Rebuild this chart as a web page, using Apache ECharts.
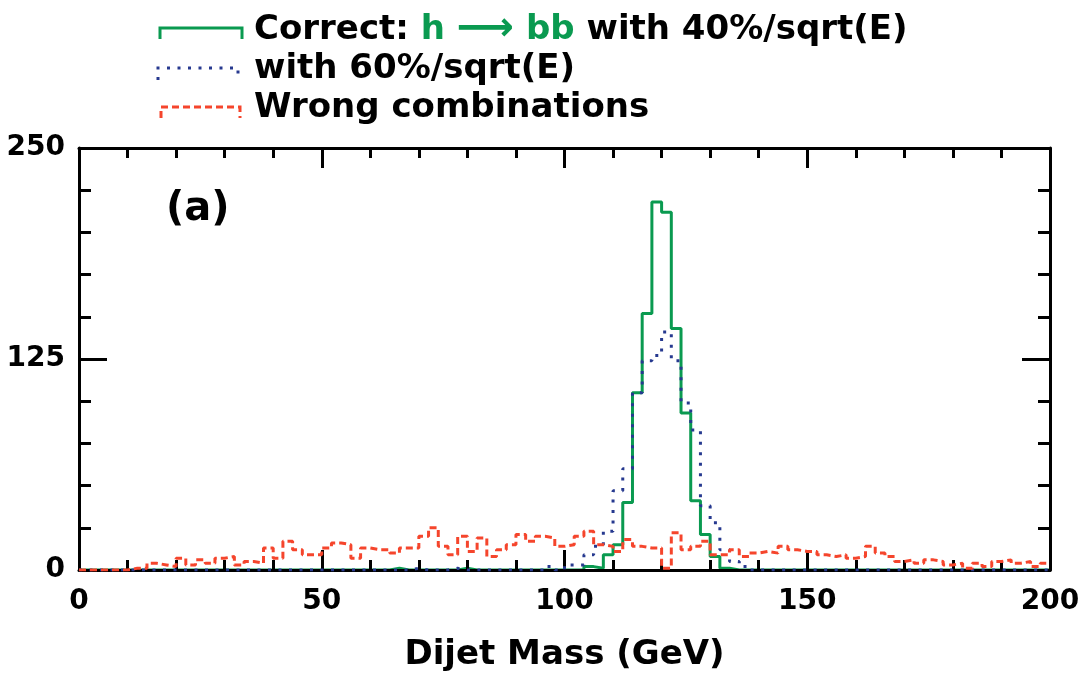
<!DOCTYPE html>
<html lang="en">
<head>
    <meta charset="utf-8">
    <title>Dijet Mass</title>
    <script src="https://cdn.jsdelivr.net/npm/echarts@6.0.0/dist/echarts.min.js"></script>
    <style>
        html, body { margin: 0; padding: 0; background: #fff; }
        #main { width: 1087px; height: 675px; }
    </style>
</head>
<body>
    <div id="main"></div>
<script>
    // 2 GeV bins from 0 to 200 GeV
    var binWidth = 2;
    var xTicks = [0, 50, 100, 150, 200];
    var yTicks = [0, 125, 250];

    // Correct h -> bb, 40%/sqrt(E)  (non-zero bins, by bin index)
    var correct40 = {
        32: 1, 39: 1,
        52: 2, 53: 1, 54: 9, 55: 15, 56: 40, 57: 105, 58: 152, 59: 218,
        60: 212, 61: 143, 62: 93, 63: 41, 64: 21, 65: 8, 66: 1
    };

    // with 60%/sqrt(E)
    var correct60 = {
        34: 1, 38: 1, 48: 2,
        50: 3, 51: 3, 52: 9, 53: 14, 54: 23, 55: 47, 56: 60, 57: 105, 58: 124, 59: 127,
        60: 141, 61: 124, 62: 99, 63: 83, 64: 38, 65: 28, 66: 12, 67: 5, 68: 2
    };

    // Wrong combinations, all 100 bins
    var wrong = [
        0, 0, 0, 0, 0, 1, 1, 4, 3, 2,
        7, 3, 6, 4, 7, 8, 3, 5, 4, 13,
        7, 17, 12, 9, 9, 13, 16, 15, 7, 13,
        12, 12, 10, 13, 13, 20, 25, 14, 9, 20,
        11, 19, 8, 12, 15, 21, 17, 20, 19, 14,
        15, 20, 23, 15, 14, 11, 18, 14, 13, 13,
        1, 22, 12, 14, 17, 9, 9, 12, 8, 10,
        11, 10, 14, 12, 11, 11, 9, 8, 9, 7,
        8, 14, 10, 8, 5, 6, 4, 6, 5, 3,
        4, 1, 4, 2, 5, 6, 4, 5, 2, 4
    ];

    var GREEN = '#0a9a50';
    var BLUE = '#26398f';
    var RED = '#f5452c';
    var FONT = 'DejaVu Sans';

    // turn bin contents into left-edge points for a step line
    function toSteps(vals) {
        var pts = [];
        for (var k = 0; k < 100; k++) {
            var v = Array.isArray(vals) ? vals[k] : (vals[k] || 0);
            pts.push([k * binWidth, v]);
        }
        pts.push([100 * binWidth, pts[pts.length - 1][1]]);
        return pts;
    }

    var myChart = echarts.init(document.getElementById('main'));

    function xAxisOpt(pos, showLabel) {
        return {
            type: 'value', position: pos, min: 0, max: 200, interval: 50, z: 2,
            axisLine: { show: true, onZero: false, lineStyle: { color: '#000', width: 3 } },
            axisTick: { show: true, inside: true, length: 20, lineStyle: { color: '#000', width: 3 } },
            minorTick: { show: true, splitNumber: 5, length: 10, lineStyle: { color: '#000', width: 3 } },
            splitLine: { show: false },
            axisLabel: {
                show: showLabel, margin: 18, color: '#000', fontFamily: FONT, fontSize: 28, fontWeight: 'bold',
                formatter: function (v) { return xTicks.indexOf(v) >= 0 ? String(v) : ''; }
            },
            name: showLabel ? 'Dijet Mass (GeV)' : '',
            nameLocation: 'middle', nameGap: 68,
            nameTextStyle: { color: '#000', fontFamily: FONT, fontSize: 34, fontWeight: 'bold' }
        };
    }

    function yAxisOpt(pos, showLabel) {
        return {
            type: 'value', position: pos, min: 0, max: 250, interval: 125, z: 2,
            axisLine: { show: true, onZero: false, lineStyle: { color: '#000', width: 3 } },
            axisTick: { show: true, inside: true, length: 28, lineStyle: { color: '#000', width: 3 } },
            minorTick: { show: true, splitNumber: 5, length: 12, lineStyle: { color: '#000', width: 3 } },
            splitLine: { show: false },
            axisLabel: {
                show: showLabel, margin: 14, color: '#000', fontFamily: FONT, fontSize: 28, fontWeight: 'bold',
                formatter: function (v) { return yTicks.indexOf(v) >= 0 ? String(v) : ''; }
            }
        };
    }

    var option = {
        animation: false,
        backgroundColor: '#fff',
        grid: { left: 79, right: 37, top: 148, bottom: 105, containLabel: false, outerBoundsMode: 'none' },
        xAxis: [xAxisOpt('bottom', true), xAxisOpt('top', false)],
        yAxis: [yAxisOpt('left', true), yAxisOpt('right', false)],
        series: [
            {
                name: 'Correct', type: 'line', step: 'end', showSymbol: false, z: 1,
                data: toSteps(correct40),
                lineStyle: { color: GREEN, width: 3, type: 'solid' }
            },
            {
                name: '60%', type: 'line', step: 'end', showSymbol: false, z: 3,
                data: toSteps(correct60),
                lineStyle: { color: BLUE, width: 3, type: [3, 7.5] }
            },
            {
                name: 'Wrong', type: 'line', step: 'end', showSymbol: false, z: 3,
                data: toSteps(wrong),
                lineStyle: { color: RED, width: 3, type: [7, 4] }
            }
        ],
        graphic: [
            { type: 'polyline', shape: { points: [[160, 39], [160, 28], [242, 28], [242, 39]] },
              style: { stroke: GREEN, lineWidth: 3, fill: null } },
            { type: 'polyline', shape: { points: [[158, 80], [158, 68], [238, 68], [238, 75]] },
              style: { stroke: BLUE, lineWidth: 3, fill: null, lineDash: [3, 7.5] } },
            { type: 'polyline', shape: { points: [[161, 118], [161, 107], [240, 107], [240, 118]] },
              style: { stroke: RED, lineWidth: 3, fill: null, lineDash: [7, 4] } },
            { type: 'text', left: 254, top: 10,
              style: {
                  text: '{k|Correct: }{g|h }{a|⟶}{g| bb}{k| with 40%/sqrt(E)}',
                  rich: {
                      k: { fill: '#000', fontFamily: FONT, fontSize: 34, fontWeight: 'bold' },
                      g: { fill: GREEN, fontFamily: FONT, fontSize: 34, fontWeight: 'bold' },
                      a: { fill: GREEN, fontFamily: FONT, fontSize: 40, fontWeight: 'bold' }
                  }
              } },
            { type: 'text', left: 254, top: 52,
              style: { text: 'with 60%/sqrt(E)', fill: '#000', fontFamily: FONT, fontSize: 34, fontWeight: 'bold' } },
            { type: 'text', left: 254, top: 91,
              style: { text: 'Wrong combinations', fill: '#000', fontFamily: FONT, fontSize: 34, fontWeight: 'bold' } },
            { type: 'text', left: 166, top: 190,
              style: { text: '(a)', fill: '#000', fontFamily: FONT, fontSize: 40, fontWeight: 'bold' } }
        ]
    };
    myChart.setOption(option);
</script>
</body>
</html>
